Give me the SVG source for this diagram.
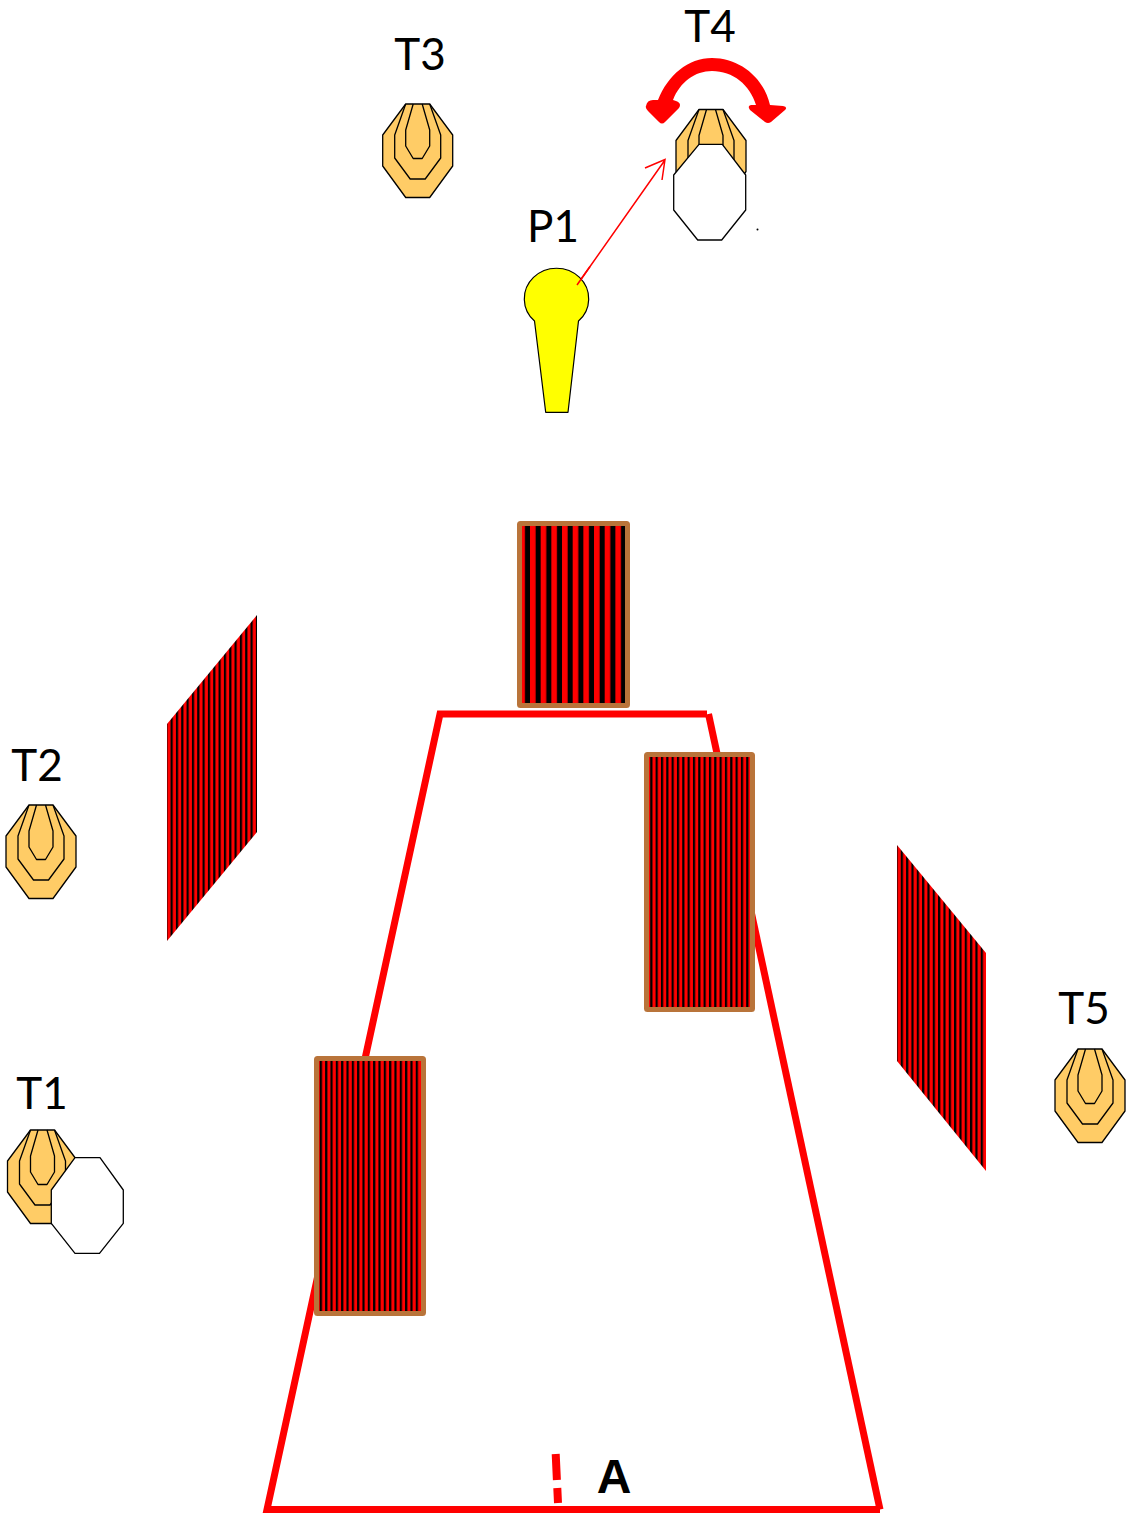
<svg xmlns="http://www.w3.org/2000/svg" xmlns:xlink="http://www.w3.org/1999/xlink" width="1128" height="1518" viewBox="0 0 1128 1518">
<style>
.lbl{font-family:"Lato","Liberation Sans",Arial,sans-serif;font-size:44px;fill:#000;text-anchor:middle}
.o{fill:#ffcc66;stroke:#000;stroke-width:1.3;stroke-linejoin:round}
.r{fill:none;stroke:#000;stroke-width:1.3;stroke-linejoin:round}
.w{fill:#fff;stroke:#000;stroke-width:1.3;stroke-linejoin:round}
.wall{stroke:#b9743a;stroke-width:5;stroke-linejoin:round}
.fault{fill:none;stroke:#f00;stroke-width:7}
</style>
<defs>
<pattern id="sw" patternUnits="userSpaceOnUse" width="10.67" height="10" x="530"><rect width="10.67" height="10" fill="#000"/><rect x="0" width="5.6" height="10" fill="#f00"/></pattern>
<pattern id="sn" patternUnits="userSpaceOnUse" width="5.33" height="10"><rect width="5.33" height="10" fill="#f00"/><rect width="2.2" height="10" fill="#000"/></pattern>
<g id="target">
<polygon class="o" points="-12,0 12,0 35,31 35,62 12,93.5 -12,93.5 -35,62 -35,31"/>
<polyline class="r" points="-12,0 -23,31 -23,54 -7.5,75 7.5,75 23,54 23,31 12,0"/>
<polyline class="r" points="-4.5,0 -12,26 -12,42 -4.5,54.5 4.5,54.5 12,42 12,26 4.5,0"/>
</g>
</defs>
<g id="connectors">
<polyline class="fault" points="708.5,714 880,1509.5"/>
<polyline class="fault" points="707,714 440,714 267,1509.5 880,1509.5"/>
<path d="M555.7 1454L556.9 1480M557.3 1488L558 1503" fill="none" stroke="#f00" stroke-width="8"/>
<path d="M577 285L665 160M645 168L665 159.5L662 180" fill="none" stroke="#f00" stroke-width="1.5"/>
</g>
<g id="wall-top"><rect class="wall" x="519.5" y="523.5" width="108" height="182" rx="1" fill="url(#sw)"/></g>
<g id="wall-right"><rect class="wall" x="646.5" y="754.5" width="106" height="255" rx="1" fill="url(#sn)"/></g>
<g id="wall-left"><rect class="wall" x="316.5" y="1058.5" width="107" height="255" rx="1" fill="url(#sn)"/></g>
<g id="screen-left"><polygon points="167,724 257,615 257,832 167,941" fill="url(#sn)"/></g>
<g id="screen-right"><polygon points="897,845 986,953 986,1171 897,1061" fill="url(#sn)"/></g>
<g id="T1"><use xlink:href="#target" href="#target" x="42.5" y="1130"/><polygon class="w" points="75,1157.7 100,1157.7 123.3,1190 123.3,1223.3 99.5,1253.3 75,1253.3 51.3,1223.3 51.3,1190"/><text class="lbl" x="42" y="1109">T1</text></g>
<g id="T2"><use xlink:href="#target" href="#target" x="41" y="805"/><text class="lbl" x="37" y="781">T2</text></g>
<g id="T3"><use xlink:href="#target" href="#target" x="417.7" y="104"/><text class="lbl" x="420" y="70">T3</text></g>
<g id="T4"><use xlink:href="#target" href="#target" x="711" y="109.5"/><polygon class="w" points="699,144.3 722.3,144.3 745.7,175 745.7,210 721.7,240 697.7,240 673.7,210 673.7,175"/>
<path d="M646 106Q647 100 653 100L658 100C668 75 688 58 712 58C740 58 764 78 770 105L783 106Q788 107 785 110L771 122Q768 124 765 122L750 110Q747 106 751 105L756 105C750 85 733 71 712 71C695 71 680 82 673 100L676 101Q682 103 679 108L665 122Q662 125 659 122L648 111Q645 108 646 106Z" fill="#f00"/>
<circle cx="757.5" cy="229.5" r="1" fill="#000"/><text class="lbl" x="710" y="42">T4</text></g>
<g id="T5"><use xlink:href="#target" href="#target" x="1090" y="1049"/><text class="lbl" x="1084" y="1024">T5</text></g>
<g id="P1"><path d="M534.5 321A32.2 30.5 0 1 1 578.5 321L568 412.3H545.7Z" fill="#ff0" stroke="#000" stroke-width="1.2" stroke-linejoin="round"/>
<path d="M577 285L590 266.5" fill="none" stroke="#f00" stroke-width="1.5"/><text class="lbl" x="553" y="242">P1</text></g>
<g id="A"><text x="614" y="1493" font-family="Liberation Sans,Arial,sans-serif" font-size="48" font-weight="700" text-anchor="middle">A</text></g>
</svg>
